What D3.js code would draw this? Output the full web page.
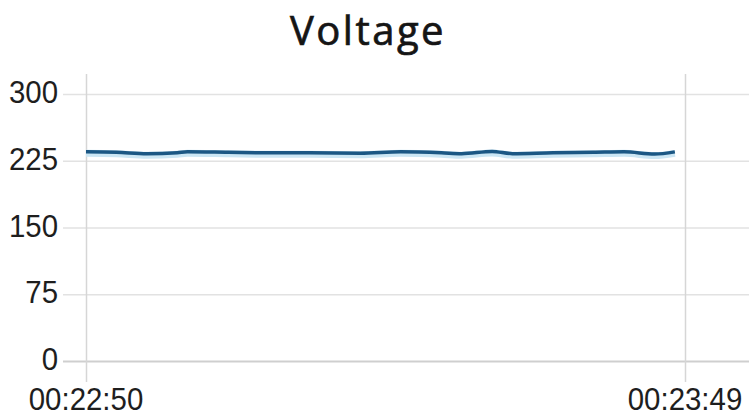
<!DOCTYPE html>
<html>
<head>
<meta charset="utf-8">
<script src="https://cdn.jsdelivr.net/npm/d3@7"></script>
<style>
  body { margin: 0; background: #fff; }
  .tick-label { font-family: "Liberation Sans", Arial, sans-serif; font-size: 32px; fill: #1e1e1e; }
  .title { font-family: "Open Sans", "Noto Sans", sans-serif; font-size: 40px; font-weight: 400; fill: #151515; stroke: #151515; stroke-width: 0.7px; letter-spacing: 2.5px; }
</style>
</head>
<body>
<div id="chart"></div>
<script>
var w = 749;
var h = 417;

// readings
var times = ["00:22:50","00:22:53","00:22:56","00:22:59","00:23:00","00:23:04","00:23:08",
  "00:23:12","00:23:17","00:23:21","00:23:25","00:23:27","00:23:30","00:23:32",
  "00:23:36","00:23:40","00:23:43","00:23:46","00:23:48"];
var volts = [235, 234.5, 233, 234, 235, 234.5, 234, 234, 233.5, 235, 234, 233, 235.5, 233,
  234, 234.5, 235, 232.5, 235];

var yTicks = [0, 75, 150, 225, 300];
var xTicks = ["00:22:50", "00:23:49"];

var parse = d3.timeParse("%H:%M:%S");
var fmt = d3.timeFormat("%H:%M:%S");

var data = times.map(function(t, i) { return { t: parse(t), v: volts[i] }; });

var svg = d3.select("#chart").append("svg")
  .attr("width", w)
  .attr("height", h);

var x = d3.scaleTime()
  .domain([parse(xTicks[0]), parse(xTicks[1])])
  .range([86, 685]);

var y = d3.scaleLinear()
  .domain([0, 300])
  .range([361, 94]);

// title
svg.append("text")
  .attr("class", "title")
  .attr("x", 368)
  .attr("y", 45)
  .attr("text-anchor", "middle")
  .text("Voltage");

// horizontal grid
svg.selectAll(".hgrid")
  .data(yTicks)
  .enter()
  .append("line")
  .attr("x1", 63)
  .attr("x2", w)
  .attr("y1", function(d) { return y(d) + 0.5; })
  .attr("y2", function(d) { return y(d) + 0.5; })
  .attr("stroke", function(d) { return d === 0 ? "#cfcfcf" : "#e2e2e2"; })
  .attr("stroke-width", function(d) { return d === 0 ? 2 : 1.5; });

// vertical grid
svg.selectAll(".vgrid")
  .data(xTicks)
  .enter()
  .append("line")
  .attr("x1", function(d) { return x(parse(d)) + 0.5; })
  .attr("x2", function(d) { return x(parse(d)) + 0.5; })
  .attr("y1", 74)
  .attr("y2", 382)
  .attr("stroke", "#d6d6d6")
  .attr("stroke-width", 1.5);

// y labels (slightly condensed like the source)
svg.selectAll(".ylab")
  .data(yTicks)
  .enter()
  .append("text")
  .attr("class", "tick-label")
  .attr("text-anchor", "end")
  .attr("transform", function(d) { return "translate(58," + (y(d) + 9) + ") scale(0.92,1)"; })
  .text(function(d) { return d; });

// x labels
svg.selectAll(".xlab")
  .data(xTicks)
  .enter()
  .append("text")
  .attr("class", "tick-label")
  .attr("text-anchor", "middle")
  .attr("transform", function(d) { return "translate(" + x(parse(d)) + ",410) scale(0.92,1)"; })
  .text(function(d) { return fmt(parse(d)); });

var line = d3.line()
  .x(function(d) { return x(d.t); })
  .y(function(d) { return y(d.v); })
  .curve(d3.curveMonotoneX);

// soft glow under the line
svg.append("path")
  .datum(data)
  .attr("fill", "none")
  .attr("stroke", "#cbe6f4")
  .attr("stroke-width", 7)
  .attr("transform", "translate(0,1.5)")
  .attr("d", line);

svg.append("path")
  .datum(data)
  .attr("fill", "none")
  .attr("stroke", "#1b5784")
  .attr("stroke-width", 3.5)
  .attr("d", line);
</script>
</body>
</html>
